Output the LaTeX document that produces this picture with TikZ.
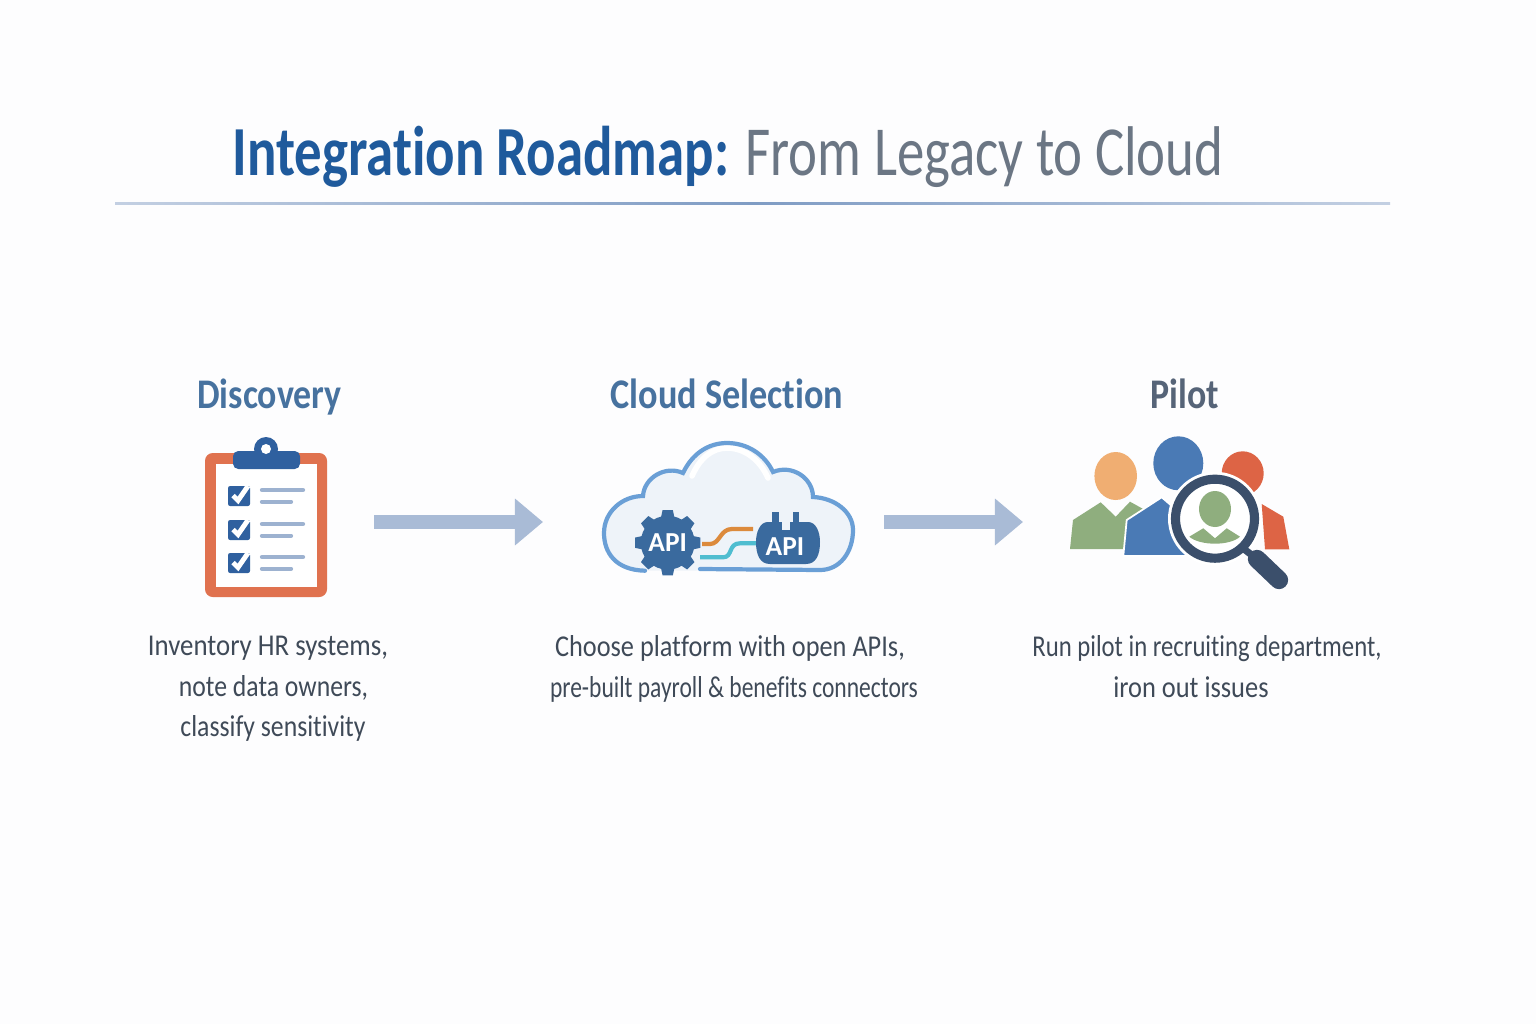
\documentclass[tikz,border=0pt]{standalone}
\usepackage{fontspec}
\setmainfont[Ligatures=NoCommon]{Carlito}
\usetikzlibrary{arrows.meta}
\definecolor{bgwhite}{HTML}{FDFDFE}
\definecolor{titleblue}{HTML}{1F5A9C}
\definecolor{titlegrey}{HTML}{6B7684}
\definecolor{headblue}{HTML}{47729F}
\definecolor{headgrey}{HTML}{566478}
\definecolor{bodygrey}{HTML}{3F4A58}
\definecolor{arrowblue}{HTML}{A9BBD6}
\definecolor{ruleblue}{HTML}{7F9CC4}
\definecolor{clipred}{HTML}{E0724F}
\definecolor{clipblue}{HTML}{2F609F}
\definecolor{clipline}{HTML}{9DB2D0}
\definecolor{cloudfill}{HTML}{EEF3F9}
\definecolor{cloudline}{HTML}{6A9FD6}
\definecolor{apiblue}{HTML}{3A6A9E}
\definecolor{wireorange}{HTML}{DC8A3C}
\definecolor{wireteal}{HTML}{4FBDD0}
\definecolor{headorange}{HTML}{F0AE72}
\definecolor{bodygreen}{HTML}{8FAE7E}
\definecolor{peopleblue}{HTML}{4A7AB5}
\definecolor{peoplered}{HTML}{DD6445}
\definecolor{lensdark}{HTML}{3B4F6B}
\tikzset{
titletext/.style={anchor=base west, font=\fontsize{20}{24}\selectfont, xscale=0.78, transform shape, inner sep=0},
steptitle/.style={anchor=base, font=\fontsize{12}{14}\selectfont\bfseries, xscale=0.85, transform shape, inner sep=0},
bodytext/.style={anchor=base, font=\fontsize{8.6}{10}\selectfont, text=bodygrey, transform shape, inner sep=0},
apitext/.style={font=\fontsize{7.8}{9}\selectfont\bfseries, text=white, inner sep=0},
flowarrow/.style={draw=arrowblue, line width=3.97pt, -{Triangle[length=0.28cm,width=0.45cm]}},
clipboard/.pic={
  \fill[clipred, rounded corners=2.2] (0,3) rectangle (122,147);
  \fill[white] (11,14) rectangle (112,137);
  \fill[clipblue] (61,-1) circle [radius=12];
  \fill[clipblue, rounded corners=1.5] (28,1) rectangle (95,19);
  \fill[white] (61,-1) circle [radius=5];
  \foreach \y in {36,70,103} {
    \fill[clipblue, rounded corners=0.6] (23,\y) rectangle (45,\y+20);
    \draw[white, line width=1.4pt] (28,\y+9.5) -- (33,\y+14.5) -- (43,\y);
    \draw[clipline, line width=1.2pt, line cap=round] (57,\y+4) -- (98,\y+4);
    \draw[clipline, line width=1.2pt, line cap=round] (57,\y+15.7) -- (86,\y+15.7);
  }
  },
cloudshape/.pic={
  \fill[cloudfill] (45,130.7) .. controls (15,130) and (4,112) .. (4,93)
    .. controls (4,72) and (22,56) .. (43,56)
    .. controls (44,38) and (65,25) .. (83,33)
    .. controls (92,14) and (108,3) .. (127,3)
    .. controls (148,3) and (165,15) .. (173,32)
    .. controls (192,24) and (213,38) .. (213,57)
    .. controls (235,58) and (253,72) .. (253,90)
    .. controls (253,112) and (240,130) .. (220,130) -- cycle;
  \draw[white, line width=1.6pt, line cap=round] (92,36) .. controls (100,18) and (112,8) .. (127,8)
    .. controls (145,8) and (160,20) .. (168,38);
  \draw[cloudline, line width=1.2pt, line cap=round] (45,130.7) .. controls (15,130) and (4,112) .. (4,93)
    .. controls (4,72) and (22,56) .. (43,56)
    .. controls (44,38) and (65,25) .. (83,33)
    .. controls (92,14) and (108,3) .. (127,3)
    .. controls (148,3) and (165,15) .. (173,32)
    .. controls (192,24) and (213,38) .. (213,57)
    .. controls (235,58) and (253,72) .. (253,90)
    .. controls (253,112) and (240,130) .. (220,130) -- (100,129);
  % wires
  \draw[wireorange, line width=1.2pt] (102,104) -- (110,104) .. controls (120,104) and (120,89) .. (132,89) -- (153,89);
  \draw[wireteal, line width=1.2pt] (100,117.3) -- (123,117.3) .. controls (133,117.3) and (128,103.3) .. (140,103.3) -- (156,103.3);
  % gear
  \fill[apiblue] (67.7,102.7) circle [radius=27];
  \foreach \a in {0,45,...,315} {
    \fill[apiblue, shift={(67.7,102.7)}] (\a-15:26) -- (\a-9:33) -- (\a+9:33) -- (\a+15:26) -- cycle;
  }
  \node[apitext] (gearapi) at (67.7,102.7) {API};
  % plug
  \fill[apiblue] (168,82) -- (208,82) .. controls (216,82) and (220,92) .. (220,102)
    .. controls (220,115) and (216,124) .. (206,124) -- (170,124)
    .. controls (160,124) and (156,115) .. (156,102) .. controls (156,92) and (160,82) .. (168,82);
  \fill[apiblue] (171.7,71.7) rectangle (179.3,83);
  \fill[apiblue] (193,71.7) rectangle (199,83);
  \fill[cloudfill] (182,81) rectangle (190,90);
  \node[apitext] (plugapi) at (185,106.7) {API};
  },
peoplegroup/.pic={
  % left person
  \fill[bodygreen] (10,119) -- (13,90) -- (40.7,72.3) -- (55.7,86.7) -- (70,71.7) -- (85,80) -- (80,119) -- cycle;
  \fill[headorange] (55.7,46) ellipse [x radius=21.3, y radius=24];
  % right person
  \fill[peoplered] (201.7,74) -- (223.3,86.7) -- (229.3,119.3) -- (205,119.3) -- cycle;
  \fill[peoplered] (182.7,43.3) ellipse [x radius=21, y radius=22];
  % middle person
  \fill[peopleblue, draw=white, line width=0.5pt] (63.3,126) -- (66.7,90) -- (101.7,67.3) -- (140,100) -- (125,126) -- cycle;
  \fill[peopleblue] (118.3,33.3) ellipse [x radius=25, y radius=27];
  % magnifier
  \fill[white] (155,88.7) circle [radius=47];
  \draw[lensdark, line width=2.6pt] (155,88.7) circle [radius=39.5];
  \draw[lensdark, line width=5.2pt, line cap=round] (197,129) -- (219,150);
  \draw[lensdark, line width=2pt] (180,116) -- (197,129);
  \fill[bodygreen] (155,79) ellipse [x radius=16, y radius=18];
  \fill[bodygreen] (129.3,106.7) -- (143.3,98.3) -- (155,108.3) -- (166.7,98.3) -- (180,106.7) .. controls (170,116) and (140,116) .. (129.3,106.7) -- cycle;
  }
}
\begin{document}
\begin{tikzpicture}[x=0.01cm, y=-0.01cm]
\fill[bgwhite] (0,0) rectangle (1536,1024);

\node[titletext] (title) at (232,175) {\textcolor{titleblue}{\bfseries Integration Roadmap:} \textcolor{titlegrey}{From Legacy to Cloud}};
\shade[left color=arrowblue!70, right color=arrowblue!70, middle color=ruleblue] (115,202.8) rectangle (1390,204.4);

\node[steptitle, text=headblue] (discovery) at (269.5,408.5) {Discovery};
\node[steptitle, text=headblue, xscale=1.01] (selection) at (727,408.5) {Cloud Selection};
\node[steptitle, text=headgrey] (pilot) at (1185,408.5) {Pilot};

\pic at (205,450) {clipboard};
\pic at (600,440) {cloudshape};
\pic at (1060,430) {peoplegroup};

\coordinate (arrow1a) at (374,522);
\coordinate (arrow1b) at (543,522);
\coordinate (arrow2a) at (884,522);
\coordinate (arrow2b) at (1023,522);
\draw[flowarrow] (arrow1a) -- (arrow1b);
\draw[flowarrow] (arrow2a) -- (arrow2b);

\node[bodytext, xscale=0.887] (disc1) at (268,655) {Inventory HR systems,};
\node[bodytext, xscale=0.85] (disc2) at (273.5,696) {note data owners,};
\node[bodytext, xscale=0.85] (disc3) at (273,736.5) {classify sensitivity};

\node[bodytext, xscale=0.87] (sel1) at (730,656) {Choose platform with open APIs,};
\node[bodytext, xscale=0.778] (sel2) at (734,697) {pre-built payroll \& benefits connectors};

\node[bodytext, xscale=0.817] (pil1) at (1207,656) {Run pilot in recruiting department,};
\node[bodytext, xscale=0.873] (pil2) at (1191,697) {iron out issues};
\end{tikzpicture}
\end{document}
